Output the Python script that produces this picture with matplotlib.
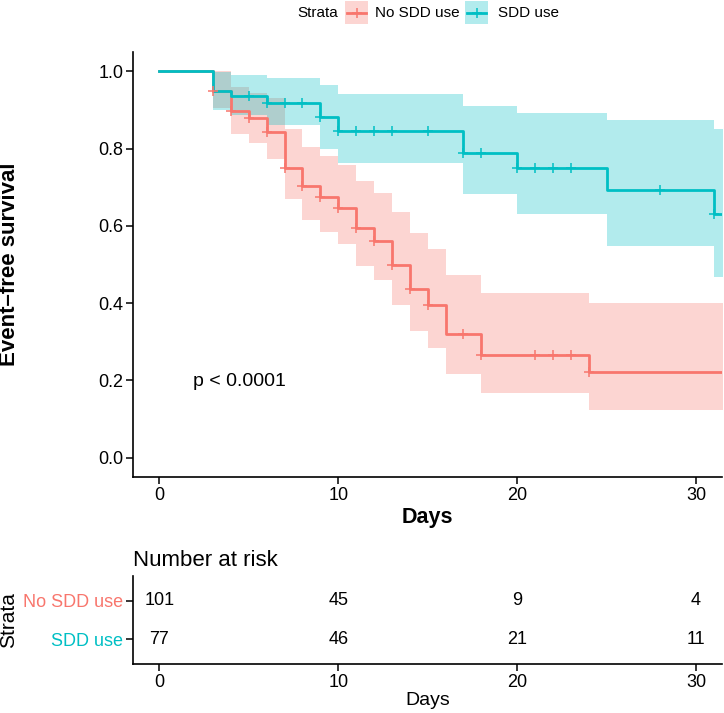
import numpy as np
import matplotlib
matplotlib.use("Agg")
import matplotlib.pyplot as plt
from matplotlib.patches import Rectangle
from matplotlib.lines import Line2D

plt.rcParams['font.family'] = ['Liberation Sans', 'DejaVu Sans']

# ---------------- data ----------------
groups = ["No SDD use", "SDD use"]
colors = ["#F8766D", "#00BFC4"]

no_times = [0, 3, 4, 5, 6, 7, 8, 9, 10, 11, 12, 13, 14, 15, 16, 18, 24, 31.6]
no_surv = [1.0, 0.949, 0.898, 0.878, 0.844, 0.750, 0.703, 0.675, 0.645, 0.595, 0.560, 0.500, 0.437, 0.395, 0.321, 0.266, 0.222, 0.222]
no_upper = [1.0, 1.0, 0.960, 0.945, 0.930, 0.850, 0.805, 0.782, 0.758, 0.715, 0.685, 0.635, 0.582, 0.541, 0.474, 0.427, 0.401, 0.401]
no_lower = [1.0, 0.905, 0.839, 0.815, 0.773, 0.669, 0.616, 0.585, 0.552, 0.497, 0.460, 0.395, 0.328, 0.285, 0.216, 0.167, 0.124, 0.124]
no_censor = [3, 4, 5, 6, 7, 8, 9, 10, 11, 12, 13, 14, 15, 17, 18, 21, 22, 23, 24]

sdd_times = [0, 3, 4, 6, 9, 10, 17, 20, 25, 31, 31.6]
sdd_surv = [1.0, 0.949, 0.936, 0.919, 0.882, 0.846, 0.789, 0.751, 0.693, 0.631, 0.631]
sdd_upper = [1.0, 0.997, 0.990, 0.984, 0.964, 0.941, 0.911, 0.893, 0.875, 0.850, 0.850]
sdd_lower = [1.0, 0.900, 0.887, 0.861, 0.800, 0.763, 0.682, 0.631, 0.547, 0.467, 0.467]
sdd_censor = [5, 6, 7, 8, 9, 10, 11, 12, 13, 15, 17, 18, 20, 21, 22, 23, 28, 31]

risk_times = [0, 10, 20, 30]
risk_no = [101, 45, 9, 4]
risk_sdd = [77, 46, 21, 11]

pval_text = "p < 0.0001"

# ---------------- figure ----------------
W, H = 724, 713
fig = plt.figure(figsize=(W / 100, H / 100), dpi=100)

def ax_rect(l, t, r, b):
    return [l / W, 1 - b / H, (r - l) / W, (b - t) / H]

LW = 2.0
MS = 7

ax = fig.add_axes(ax_rect(133, 52, 722, 477))
series = [
    (no_times, no_surv, no_upper, no_lower, no_censor),
    (sdd_times, sdd_surv, sdd_upper, sdd_lower, sdd_censor),
]
for (t, s, up, lo, cen), col in zip(series, colors):
    ax.fill_between(t, lo, up, step='post', color=col, alpha=0.3, lw=0)
for (t, s, up, lo, cen), col in zip(series, colors):
    t = np.array(t); s = np.array(s)
    ax.step(t, s, where='post', color=col, lw=LW, zorder=3)
    idx = np.searchsorted(t, cen, side='right') - 1
    ax.plot(cen, s[idx], ls='none', marker='+', ms=MS, mew=1.1, color=col, zorder=4)

ax.set_xlim(-1.47, 31.45)
ax.set_ylim(-0.05, 1.05)
ax.set_xticks([0, 10, 20, 30])
ax.set_yticks([0.0, 0.2, 0.4, 0.6, 0.8, 1.0])
ax.set_yticklabels(["0.0", "0.2", "0.4", "0.6", "0.8", "1.0"])
for sp in ['top', 'right']:
    ax.spines[sp].set_visible(False)
for sp in ['left', 'bottom']:
    ax.spines[sp].set_linewidth(1.2)
ax.tick_params(axis='both', labelsize=13, length=5, width=1.1, pad=2, colors='black')
ax.set_xlabel("Days", fontsize=15.5, fontweight='bold', labelpad=2)
fig.text(10 / W, 1 - 264 / H, "Event\u2013free survival", fontsize=16, fontweight='bold',
         rotation=90, ha='center', va='center')
ax.text(1.9, 0.196, pval_text, fontsize=14, ha='left', va='center')

# legend (drawn in figure pixel space)
def fx(px):
    return px / W

def fy(py):
    return 1 - py / H

fig.text(fx(297), fy(13), "Strata", fontsize=11, ha='left', va='center')
key_left = [345, 465]
text_left = [375, 498]
for kl, tl, c, g in zip(key_left, text_left, colors, groups):
    fig.add_artist(Rectangle((fx(kl), fy(24)), 23 / W, 23 / H, transform=fig.transFigure,
                             facecolor=c, alpha=0.3, edgecolor='none'))
    fig.add_artist(Line2D([fx(kl + 2), fx(kl + 21)], [fy(12.5), fy(12.5)], transform=fig.transFigure,
                          color=c, lw=LW))
    fig.add_artist(Line2D([fx(kl + 11.5)], [fy(12.5)], transform=fig.transFigure,
                          color=c, ls='none', marker='+', ms=MS, mew=1.1))
    fig.text(fx(tl), fy(13), g, fontsize=11, ha='left', va='center')

# risk table
rt = fig.add_axes(ax_rect(133, 576, 722, 664))
rt.set_xlim(-1.47, 31.45)
rt.set_ylim(-0.65, 1.65)
for x, a, b in zip(risk_times, risk_no, risk_sdd):
    rt.text(x, 1, str(a), ha='center', va='center', fontsize=13)
    rt.text(x, 0, str(b), ha='center', va='center', fontsize=13)
rt.set_yticks([1, 0])
rt.set_yticklabels(groups)
for lab, c in zip(rt.get_yticklabels(), colors):
    lab.set_color(c)
rt.set_xticks([0, 10, 20, 30])
for sp in ['top', 'right']:
    rt.spines[sp].set_visible(False)
for sp in ['left', 'bottom']:
    rt.spines[sp].set_linewidth(1.2)
rt.tick_params(axis='both', labelsize=13, length=5, width=1.1, pad=2)
rt.set_xlabel("Days", fontsize=14, labelpad=1)
fig.text(9 / W, 1 - 620 / H, "Strata", fontsize=15, rotation=90, ha='center', va='center')
rt.set_title("Number at risk", fontsize=16, loc='left', pad=7)

fig.savefig("out.png", dpi=100)
